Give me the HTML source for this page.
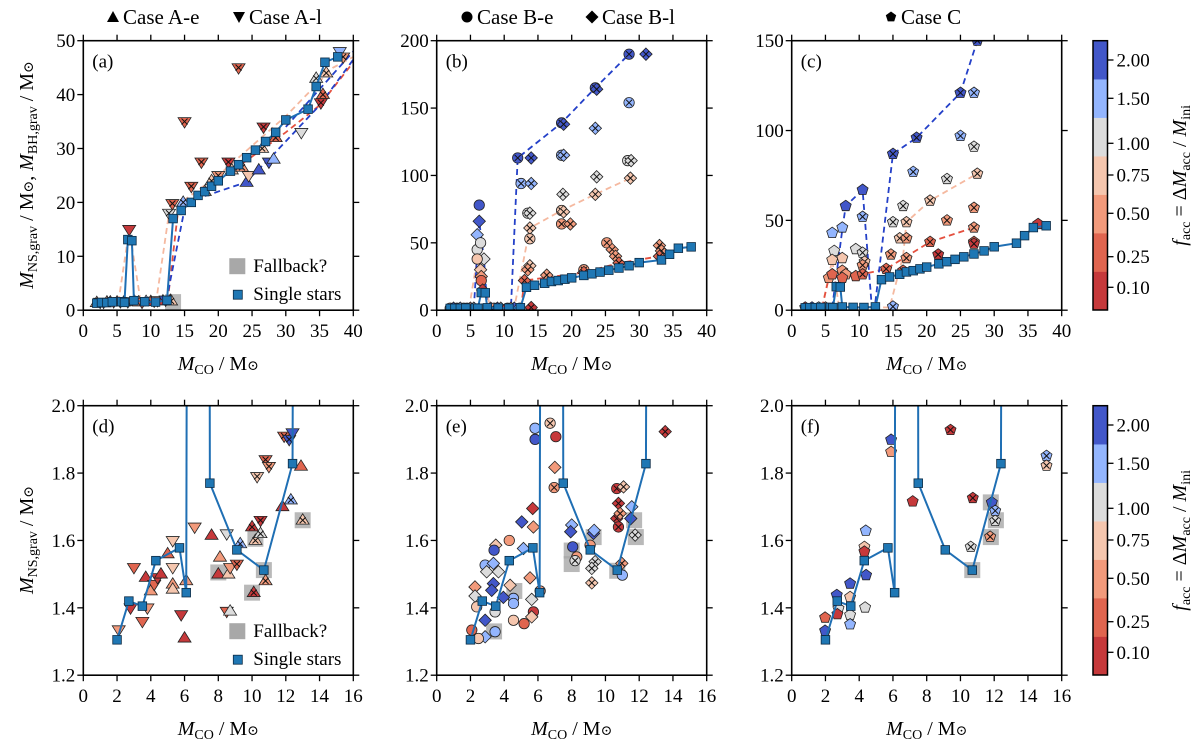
<!DOCTYPE html>
<html><head><meta charset="utf-8"><style>
body{margin:0;background:#fff}
svg, svg text{font-family:"Liberation Serif","DejaVu Serif","Times New Roman",serif}
</style></head><body>
<svg id="fig" width="1200" height="748" viewBox="0 0 1200 748" font-family="Liberation Serif, DejaVu Serif, serif" xmlns="http://www.w3.org/2000/svg"></svg>
<script>
// ---- data ----
const colorBins=['#c6393b','#e0654f','#f29a7b','#f5c6ae','#dcdcdc','#93b5fe','#4257c9'];
const binLabels=['0.10','0.25','0.50','0.75','1.00','1.50','2.00'];
const singleX=[2.0,2.7,3.5,4.3,5.7,6.1,6.6,7.2,7.5,9.1,10.7,12.4,13.3,14.5,16,17,18,19,20,21.8,23,24.2,25.5,27,28.5,30,33.3,34.5,35.8,37.7];
const singleY=[1.305,1.42,1.405,1.54,1.578,1.445,13.1,12.9,1.77,1.572,1.512,1.828,17,18.5,20,21.3,22,23,24,25.8,27,28.3,29.7,31.3,33,35.3,37.3,41.5,46,47];
const xTicksTop=[0,5,10,15,20,25,30,35,40];
const xTicksBot=[0,2,4,6,8,10,12,14,16];
const yTicksA=[0,10,20,30,40,50];
const yTicksB=[0,50,100,150,200];
const yTicksC=[0,50,100,150];
const yTicksBot=[1.2,1.4,1.6,1.8,2.0];
// points: [x, y, colorBin, crossed, shape]
const ptsA=[[2,1.4,2,0,'u'],[2.5,1.5,1,0,'d'],[3,1.5,0,0,'d'],[3.5,1.5,2,0,'u'],[4,1.5,1,0,'u'],[4.5,1.6,0,0,'d'],[5,1.5,2,0,'u'],[5.5,1.6,3,0,'d'],[6,1.5,0,0,'u'],[6.6,1.6,2,0,'d'],[6.8,15,0,0,'d'],[7.6,1.6,0,0,'u'],[8.2,1.5,2,0,'u'],[8.7,1.5,1,0,'d'],[9.3,1.6,5,1,'u'],[10,1.6,0,1,'u'],[10.5,1.7,1,1,'d'],[11,1.8,2,1,'d'],[11.8,1.7,0,0,'u'],[12.2,1.9,6,1,'d'],[12.9,1.8,1,0,'u'],[13,1.7,3,1,'u'],[12.7,18,4,1,'d'],[13.2,19.8,1,1,'d'],[15,35,1,1,'d'],[14.8,20,5,1,'u'],[16,23,1,1,'d'],[17.5,27.5,1,1,'d'],[18,22,2,1,'u'],[19,24,3,1,'u'],[20,25,2,1,'d'],[21.5,27.5,0,1,'d'],[22,26,3,1,'u'],[23,45,1,1,'d'],[23.5,26.5,2,1,'u'],[24.2,23.7,6,0,'u'],[24.5,25,3,0,'d'],[26,26,6,0,'u'],[26.7,34,0,1,'d'],[26.5,30,3,1,'u'],[27.5,27.5,6,0,'d'],[28.2,28,5,0,'u'],[28.5,32,1,1,'u'],[32.3,33,4,0,'d'],[34.5,43,4,1,'u'],[35.2,38.5,0,1,'d'],[35.5,40,1,1,'u'],[36,44,3,1,'u'],[38,48,5,0,'d'],[38.5,47,2,1,'d']];
const ptsB=[[2,1.5,2,0,'o'],[2.5,1.5,6,0,'D'],[3,1.5,0,0,'o'],[3.5,1.5,5,0,'D'],[4,1.5,3,0,'o'],[4.5,1.5,6,0,'o'],[5,1.5,2,0,'D'],[5.5,1.5,4,0,'D'],[8,1.5,5,1,'D'],[8.5,1.5,2,0,'o'],[9,1.5,6,0,'D'],[9.5,1.5,4,1,'D'],[10.5,1.5,0,1,'o'],[11,1.5,2,1,'D'],[11.5,1.5,6,0,'D'],[12.3,1.5,5,0,'o'],
[6.3,78,6,0,'o'],[6.3,66,6,0,'D'],[12,113,6,1,'o'],[14,113,6,1,'D'],[18.5,139,6,1,'o'],[18.8,138,6,1,'D'],[23.5,165,6,1,'o'],[23.7,164,6,1,'D'],[28.5,190,6,1,'o'],[31,190,6,1,'D'],
[6,56,5,0,'D'],[12.5,94,5,1,'o'],[14,94,5,1,'D'],[18.5,115,5,1,'o'],[18.8,115,5,1,'D'],[23.5,135,5,1,'D'],[28.5,154,5,1,'o'],
[6,45,4,0,'o'],[6.5,50,4,0,'o'],[7,38,4,0,'D'],[13.5,72,4,1,'o'],[13.8,72,4,1,'D'],[18.7,86,4,1,'D'],[23.7,99,4,1,'D'],[28.3,111,4,1,'o'],[28.8,111,4,1,'D'],
[6,38,3,0,'o'],[6.5,30,3,0,'D'],[13.8,61,3,1,'D'],[13.8,53,3,1,'o'],[18.5,74,3,1,'o'],[18.8,73,3,1,'D'],[23.5,86,3,1,'D'],[28.7,98,3,1,'D'],[13.8,33,3,1,'D'],
[18.5,64,2,1,'o'],[19.8,64,2,1,'D'],[25.2,50,2,1,'o'],[26,45,2,1,'D'],[26.5,40,2,1,'D'],[33,48,2,1,'D'],[33.3,44,2,1,'D'],[13.5,30,2,1,'D'],[16.3,26,2,1,'D'],[21.8,30,2,1,'o'],[6.6,25,2,0,'D'],
[13,22,1,1,'D'],[21.8,28,1,1,'D'],[27,35,1,1,'D'],[33,40,1,1,'D'],[6.6,22,1,0,'o'],[14,2,0,1,'D'],[6.8,15,0,0,'D']];
const ptsC=[[2,1.5,0,0,'p'],[3,1.5,6,0,'p'],[4,1.5,4,0,'p'],[5,1.5,2,0,'p'],
[8,58,6,0,'p'],[10.5,67,6,0,'p'],[15,87,6,1,'p'],[18.5,96,6,1,'p'],[25,121,6,1,'p'],[27.5,150,6,1,'p'],
[6,43,5,0,'p'],[7.5,46,5,0,'p'],[10.5,52,5,1,'p'],[18,77,5,1,'p'],[25,97,5,1,'p'],[27,121,5,1,'p'],[15,2,5,1,'p'],
[6.3,33,4,0,'p'],[9.5,34,4,0,'p'],[10.5,32,4,1,'p'],[16.5,58,4,1,'p'],[23,73,4,1,'p'],[27,91,4,1,'p'],[15,49,4,1,'p'],
[6,28,3,0,'p'],[7.5,29,3,0,'p'],[10.8,27,3,1,'p'],[17,49,3,1,'p'],[20.5,61,3,1,'p'],[27.5,76,3,1,'p'],[16,40,3,1,'p'],
[5.5,18,2,0,'p'],[7.5,22,2,0,'p'],[8,20,2,0,'p'],[10.5,25,2,1,'p'],[14.7,31,2,1,'p'],[17,29,2,1,'p'],[23,50,2,1,'p'],[27,57,2,1,'p'],[17,40,2,1,'p'],[27,46,2,1,'p'],
[6,20,1,0,'p'],[7.5,18,1,0,'p'],[9.5,19,1,0,'p'],[10.5,20,1,1,'p'],[14,23,1,1,'p'],[16.5,22,1,1,'p'],[20.5,38,1,1,'p'],[27,38,1,1,'p'],
[21.7,31,0,1,'p'],[27,37,0,1,'p'],[36.5,48,0,0,'p']];
const ptsD=[[3,1.52,1,0,'d'],[2.1,1.335,2,0,'d'],[2.8,1.4,0,0,'d'],[3.5,1.36,1,0,'d'],[3.7,1.49,0,0,'u'],[3.8,1.4,2,0,'d'],[4,1.45,2,0,'u'],[4.2,1.47,1,0,'d'],[4.4,1.49,0,0,'d'],[4.6,1.5,0,0,'u'],[5,1.56,1,0,'u'],[5.3,1.6,3,0,'d'],[5.3,1.52,3,0,'d'],[5.3,1.47,2,0,'u'],[5.3,1.455,3,0,'u'],[5.8,1.38,0,0,'d'],[6.0,1.31,0,0,'u'],[6.1,1.48,2,0,'u'],[6.6,1.64,2,0,'d'],[7.6,1.615,0,0,'u'],[8,1.5,0,0,'u'],[8.1,1.55,2,0,'u'],[8.5,1.62,4,0,'d'],[8.6,1.5,3,0,'u'],[8.7,1.52,2,0,'d'],[8.5,1.39,1,0,'d'],[8.7,1.39,4,0,'u'],[9.1,1.53,1,1,'d'],[9.3,1.59,5,1,'u'],[10,1.64,0,1,'u'],[10.1,1.445,0,1,'u'],[10.3,1.79,3,1,'d'],[10.5,1.66,0,1,'d'],[10.2,1.6,3,1,'u'],[10.5,1.62,4,1,'u'],[10.8,1.84,1,1,'d'],[11,1.82,2,1,'d'],[10.8,1.48,2,1,'u'],[11.8,1.7,0,0,'u'],[11.9,1.91,1,1,'d'],[12.2,1.9,6,1,'d'],[12.4,1.92,6,0,'d'],[12.3,1.72,5,1,'u'],[12.9,1.82,1,0,'u'],[13,1.66,3,1,'u']];
const ptsE=[[5.83,1.933,5,0,'o'],[5.83,1.90,6,0,'o'],[6.72,1.948,3,1,'o'],[7.06,1.908,0,0,'o'],[7.0,1.817,2,0,'D'],[6.96,1.757,2,1,'o'],[5.69,1.695,0,0,'D'],[5.04,1.655,6,0,'D'],[5.73,1.64,2,0,'D'],[4.3,1.6,2,0,'o'],[3.5,1.586,3,0,'D'],[3.4,1.571,6,0,'o'],[5.14,1.576,5,0,'D'],[2.87,1.527,5,0,'o'],[3.36,1.532,5,0,'D'],[2.96,1.507,4,0,'D'],[3.66,1.507,4,0,'D'],[5.53,1.489,2,0,'D'],[4.35,1.467,3,0,'D'],[3.36,1.472,6,0,'D'],[2.27,1.462,2,0,'D'],[4.55,1.428,5,0,'o'],[3.95,1.431,6,0,'D'],[5.63,1.425,4,0,'D'],[6.13,1.45,2,0,'o'],[2.27,1.435,4,0,'D'],[2.37,1.403,3,0,'o'],[3.46,1.388,4,0,'o'],[5.73,1.388,0,0,'o'],[5.63,1.373,3,0,'D'],[5.18,1.353,1,0,'o'],[4.55,1.363,3,0,'o'],[2.87,1.363,6,0,'D'],[3.46,1.329,5,0,'o'],[2.87,1.314,5,0,'D'],[2.08,1.334,1,0,'o'],[2.47,1.309,3,0,'o'],[3.26,1.452,6,0,'D'],[4.55,1.413,5,0,'o'],
[8.0,1.646,5,0,'D'],[7.94,1.626,6,0,'D'],[8.06,1.581,6,0,'o'],[8.3,1.551,2,0,'o'],[8.2,1.54,4,1,'o'],[9.29,1.621,6,0,'D'],[9.33,1.63,5,0,'D'],[9.09,1.586,2,0,'o'],[9.39,1.537,4,1,'D'],[9.19,1.517,4,1,'D'],[9.19,1.474,3,1,'D'],[10.97,1.532,2,1,'D'],[11,1.497,5,0,'o'],[10.67,1.754,0,1,'o'],[11.07,1.759,3,1,'D'],[10.77,1.71,0,1,'D'],[10.67,1.665,0,1,'D'],[10.87,1.68,2,1,'D'],[10.77,1.64,0,1,'o'],[11.5,1.665,6,0,'D'],[11.56,1.7,5,0,'D'],[11.76,1.616,4,1,'D'],[13.54,1.923,0,1,'D']];
const ptsF=[[5.89,1.899,6,0,'p'],[5.89,1.863,2,0,'p'],[9.41,1.928,0,1,'p'],[7.17,1.716,0,0,'p'],[10.73,1.726,0,1,'p'],[11.86,1.713,6,0,'p'],[12.06,1.688,5,1,'p'],[12.06,1.658,4,1,'p'],[11.76,1.611,2,1,'p'],[10.61,1.581,4,1,'p'],[15.1,1.851,5,1,'p'],[15.1,1.822,3,1,'p'],[4.39,1.629,5,0,'p'],[4.31,1.581,3,0,'p'],[4.31,1.567,0,0,'p'],[4.41,1.497,6,0,'p'],[3.46,1.472,6,0,'p'],[3.46,1.432,3,0,'p'],[4.35,1.401,4,0,'p'],[3.46,1.379,4,0,'p'],[3.46,1.351,5,0,'p'],[2.67,1.438,6,0,'p'],[2.77,1.398,4,0,'p'],[2.71,1.381,0,0,'p'],[1.98,1.371,1,0,'p'],[1.98,1.332,6,0,'p']];
const fbA=[[13.3,1.5]];
const fbD=[[8.0,1.505],[10.0,1.445],[10.2,1.605],[10.7,1.512],[13.0,1.66]];
const fbE=[[4.6,1.45],[3.4,1.33],[8.0,1.57],[8.0,1.53],[9.3,1.61],[10.7,1.51],[11.8,1.61],[11.7,1.66]];
const fbF=[[10.7,1.512],[11.8,1.713],[12.1,1.66],[11.8,1.61]];
const dashA=[{c:'#f5b9a0',p:[[5.2,1.5],[6.8,15],[8.5,1.6],[10.8,1.7],[12.7,18],[14.5,20],[20,25],[30,36],[37,45],[40,47]]},{c:'#e4503f',p:[[12.5,1.7],[14,18],[20,24],[30,33],[35,38],[40,46]]},{c:'#2440c8',p:[[12.3,1.8],[15.2,20],[24,23.7],[27.5,28],[35,38],[40,46.5]]},{c:'#2440c8',p:[[30,34],[40,48]]}];
const dashB=[{c:'#f5b9a0',p:[[4.8,1.5],[6,38],[7,20],[8,2],[11.5,2],[13.8,61],[18.5,74],[23.5,86],[28.7,98]]},{c:'#e4503f',p:[[12.5,2],[13,22],[21.8,28],[27,35],[33,40]]},{c:'#2440c8',p:[[5.5,1.5],[6.3,66],[7,38],[7.5,2],[11,2],[12,113],[18.5,139],[23.5,165],[28.5,190]]}];
const dashC=[{c:'#f5b9a0',p:[[4.5,1.5],[6,28],[7,2],[14.5,1.5],[16.5,30],[17,49],[20.5,61],[27.5,76]]},{c:'#e4503f',p:[[4.5,1.5],[5.5,18],[7.5,18],[10.5,20],[14,23],[20.5,38],[27,46]]},{c:'#2440c8',p:[[6,1.5],[7.5,45],[8,58],[10.5,67],[11.8,5],[12.3,1.5],[15,87],[18.5,96],[25,121],[27.5,150],[28,160]]}];

// ---- drawing ----
const NS='http://www.w3.org/2000/svg';
const svg=document.getElementById('fig');
const FF='Liberation Serif, DejaVu Serif, serif';
function mk(tag,attrs,parent){const e=document.createElementNS(NS,tag);for(const k in attrs)e.setAttribute(k,attrs[k]);if(tag==='text')e.setAttribute('font-family',FF);(parent||svg).appendChild(e);return e;}
let clipN=0;
function marker(g,sx,sy,pt){
  const [x,y,c,cr,s]=pt;const cx=sx(x),cy=sy(y);const fill=colorBins[c];let el;
  const st={fill:fill,stroke:'#222','stroke-width':0.8};
  if(s==='o'){el=mk('circle',Object.assign({cx:cx,cy:cy,r:5.2},st),g);}
  else if(s==='D'){const r=6.2;el=mk('polygon',Object.assign({points:`${cx},${cy-r} ${cx+r},${cy} ${cx},${cy+r} ${cx-r},${cy}`},st),g);}
  else if(s==='u'){const r=6.5;el=mk('polygon',Object.assign({points:`${cx},${cy-r} ${cx+r},${cy+r*0.6} ${cx-r},${cy+r*0.6}`},st),g);}
  else if(s==='d'){const r=6.5;el=mk('polygon',Object.assign({points:`${cx},${cy+r} ${cx+r},${cy-r*0.6} ${cx-r},${cy-r*0.6}`},st),g);}
  else {const r=5.8;let p=[];for(let i=0;i<5;i++){const a=-Math.PI/2+i*2*Math.PI/5;p.push((cx+r*Math.cos(a)).toFixed(1)+','+(cy+r*Math.sin(a)).toFixed(1));}el=mk('polygon',Object.assign({points:p.join(' ')},st),g);}
  
  
  if(cr){const k=3;const x1=mk('path',{d:`M${cx-k},${cy-k}L${cx+k},${cy+k}M${cx-k},${cy+k}L${cx+k},${cy-k}`,stroke:'#111','stroke-width':1,fill:'none'},g);
    
    }
}
function panel(o){
  const L=o.x0,T=o.y0,W=270,H=269.5;
  const sx=v=>L+(v-o.xmin)/(o.xmax-o.xmin)*W;
  const sy=v=>T+H-(v-o.ymin)/(o.ymax-o.ymin)*H;
  const g=mk('g',{});
  const id='clip'+(clipN++);
  const cp=mk('clipPath',{id:id},g);mk('rect',{x:L,y:T,width:W,height:H},cp);
  const pg=mk('g',{'clip-path':`url(#${id})`},g);
  
  
  (o.fb||[]).forEach(f=>{const r=mk('rect',{x:sx(f[0])-8,y:sy(f[1])-8,width:16,height:16,fill:'#a8a8a8',opacity:0.8},pg);
    
    });
  (o.dash||[]).forEach(d=>{const pl=mk('polyline',{points:d.p.map(p=>sx(p[0])+','+sy(p[1])).join(' '),fill:'none',stroke:d.c,'stroke-width':1.8,'stroke-dasharray':'6,4'},pg);
    
    });
  o.pts.forEach(p=>marker(pg,sx,sy,p));
  const line=mk('polyline',{points:singleX.map((x,i)=>sx(x)+','+sy(singleY[i])).join(' '),fill:'none',stroke:'#1f6fb4','stroke-width':2},pg);
  
  
  singleX.forEach((x,i)=>{const r=mk('rect',{x:sx(x)-4.3,y:sy(singleY[i])-4.3,width:8.6,height:8.6,fill:'#1f77b4',stroke:'#0b2a44','stroke-width':0.8},pg);
    
    });
  const fr=mk('rect',{x:L,y:T,width:W,height:H,fill:'none',stroke:'#000','stroke-width':1.6},g);
  
  
  o.xt.forEach(v=>{const X=sx(v);mk('line',{x1:X,x2:X,y1:T+H,y2:T+H+6,stroke:'#000','stroke-width':1.3},g);mk('line',{x1:X,x2:X,y1:T,y2:T-6,stroke:'#000','stroke-width':1.3},g);
    const t=mk('text',{x:X,y:T+H+27,'text-anchor':'middle','font-size':19},g);t.textContent=v;
    
    });
  o.yt.forEach(v=>{const Y=sy(v);mk('line',{x1:L-6,x2:L,y1:Y,y2:Y,stroke:'#000','stroke-width':1.3},g);mk('line',{x1:L+W,x2:L+W+6,y1:Y,y2:Y,stroke:'#000','stroke-width':1.3},g);
    const t=mk('text',{x:L-8,y:Y+6.5,'text-anchor':'end','font-size':19},g);t.textContent=o.yfmt?v.toFixed(1):v;
    
    });
  const lab=mk('text',{x:L+9,y:T+27,'font-size':19},g);lab.textContent=o.label;
  
  
  const xl=mk('text',{x:L+W/2,y:T+H+60,'text-anchor':'middle','font-size':20},g);
  xl.innerHTML='<tspan font-style="italic">M</tspan><tspan font-size="14" dy="4">CO</tspan><tspan dy="-4"> / M</tspan><tspan font-size="14">⊙</tspan>';
  
  
  if(o.legend){
    const r=mk('rect',{x:L+146,y:T+H-52,width:16,height:16,fill:'#a8a8a8'},g);
    const t1=mk('text',{x:L+170,y:T+H-38,'font-size':19},g);t1.textContent='Fallback?';
    const r2=mk('rect',{x:L+150,y:T+H-20,width:9,height:9,fill:'#1f77b4',stroke:'#0b2a44','stroke-width':0.8},g);
    const t2=mk('text',{x:L+170,y:T+H-10,'font-size':19},g);t2.textContent='Single stars';
  }
}
panel({name:'panel-a',label:'(a)',x0:83.3,y0:40.7,xmin:0,xmax:40,ymin:0,ymax:50,xt:xTicksTop,yt:yTicksA,pts:ptsA,fb:fbA,dash:dashA,legend:true});
panel({name:'panel-b',label:'(b)',x0:436.7,y0:40.7,xmin:0,xmax:40,ymin:0,ymax:200,xt:xTicksTop,yt:yTicksB,pts:ptsB,dash:dashB});
panel({name:'panel-c',label:'(c)',x0:791.7,y0:40.7,xmin:0,xmax:40,ymin:0,ymax:150,xt:xTicksTop,yt:yTicksC,pts:ptsC,dash:dashC});
panel({name:'panel-d',label:'(d)',x0:83.3,y0:405.7,xmin:0,xmax:16,ymin:1.2,ymax:2.0,xt:xTicksBot,yt:yTicksBot,yfmt:true,pts:ptsD,fb:fbD,legend:true});
panel({name:'panel-e',label:'(e)',x0:436.7,y0:405.7,xmin:0,xmax:16,ymin:1.2,ymax:2.0,xt:xTicksBot,yt:yTicksBot,yfmt:true,pts:ptsE,fb:fbE});
panel({name:'panel-f',label:'(f)',x0:791.7,y0:405.7,xmin:0,xmax:16,ymin:1.2,ymax:2.0,xt:xTicksBot,yt:yTicksBot,yfmt:true,pts:ptsF,fb:fbF});

// y titles
function ytitle(y,html,name){const t=mk('text',{x:0,y:0,'text-anchor':'middle','font-size':20,transform:`translate(33,${y}) rotate(-90)`});t.innerHTML=html;}
ytitle(175,'<tspan font-style="italic">M</tspan><tspan font-size="14" dy="4">NS,grav</tspan><tspan dy="-4"> / M</tspan><tspan font-size="14">⊙</tspan><tspan>, </tspan><tspan font-style="italic">M</tspan><tspan font-size="14" dy="4">BH,grav</tspan><tspan dy="-4"> / M</tspan><tspan font-size="14">⊙</tspan>','y-axis-title-top');
ytitle(540,'<tspan font-style="italic">M</tspan><tspan font-size="14" dy="4">NS,grav</tspan><tspan dy="-4"> / M</tspan><tspan font-size="14">⊙</tspan>','y-axis-title-bottom');

// colorbars
const cbTickY=[60,98.3,143.3,175,213.3,256.7,287.3];
function colorbar(T,name){
  const g=mk('g',{});
  const L=1093,W=14.5,H=269.3,bh=H/7;
  colorBins.forEach((c,i)=>{const r=mk('rect',{x:L,y:T+H-(i+1)*bh,width:W,height:bh+0.3,fill:c},g);});
  mk('rect',{x:L,y:T,width:W,height:H,fill:'none',stroke:'#000','stroke-width':1.5},g);
  binLabels.slice().reverse().forEach((lb,i)=>{const Y=T+cbTickY[i]-40.7;mk('line',{x1:L+W,x2:L+W+6,y1:Y,y2:Y,stroke:'#000','stroke-width':1.3},g);
    const t=mk('text',{x:L+W+9,y:Y+6.5,'font-size':19},g);t.textContent=lb;});
  const t=mk('text',{x:0,y:0,'text-anchor':'middle','font-size':20,transform:`translate(1186,${T+H/2}) rotate(-90)`},g);
  t.innerHTML='<tspan font-style="italic">f</tspan><tspan font-size="14" dy="4">acc</tspan><tspan dy="-4"> = Δ</tspan><tspan font-style="italic">M</tspan><tspan font-size="14" dy="4">acc</tspan><tspan dy="-4"> / </tspan><tspan font-style="italic">M</tspan><tspan font-size="14" dy="4">ini</tspan>';
  
}
colorbar(40.7,'colorbar-top');colorbar(405.7,'colorbar-bottom');

// case legends
function caseLeg(x,shape,label){
  const g=mk('g',{});
  const cx=x,cy=17;let p;
  if(shape==='u')p=`${cx},${cy-6} ${cx+6},${cy+5} ${cx-6},${cy+5}`;
  else if(shape==='d')p=`${cx},${cy+6} ${cx+6},${cy-5} ${cx-6},${cy-5}`;
  else if(shape==='D')p=`${cx},${cy-6.5} ${cx+6.5},${cy} ${cx},${cy+6.5} ${cx-6.5},${cy}`;
  else if(shape==='p'){let a=[];for(let i=0;i<5;i++){const t=-Math.PI/2+i*2*Math.PI/5;a.push((cx+5.5*Math.cos(t)).toFixed(1)+','+(cy+5.5*Math.sin(t)).toFixed(1));}p=a.join(' ');}
  if(shape==='o')mk('circle',{cx:cx,cy:cy,r:5.5,fill:'#000'},g);else mk('polygon',{points:p,fill:'#000'},g);
  const t=mk('text',{x:x+10,y:24,'font-size':21},g);t.textContent=label;
}
caseLeg(113,'u','Case A-e');caseLeg(239,'d','Case A-l');
caseLeg(467,'o','Case B-e');caseLeg(592,'D','Case B-l');
caseLeg(891,'p','Case C');
</script>
</body></html>
